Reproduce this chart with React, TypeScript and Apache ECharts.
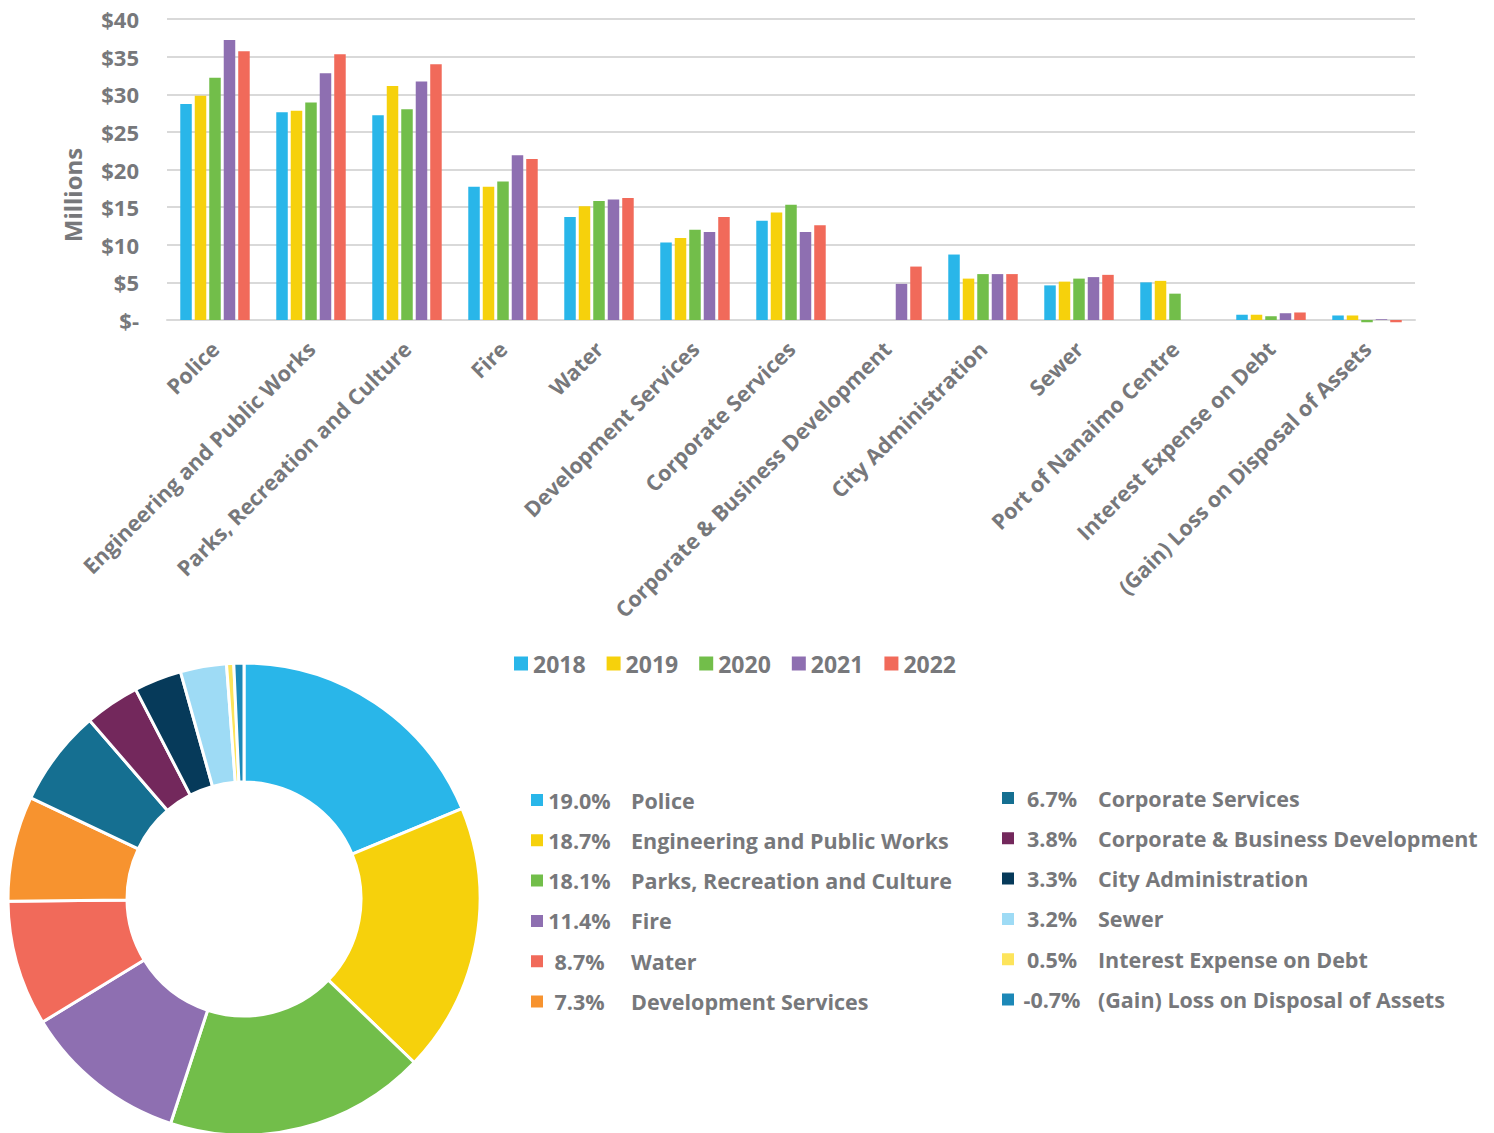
import React, { useEffect, useRef } from "react";
import * as echarts from "echarts";

const categories = [
  "Police",
  "Engineering and Public Works",
  "Parks, Recreation and Culture",
  "Fire",
  "Water",
  "Development Services",
  "Corporate Services",
  "Corporate & Business Development",
  "City Administration",
  "Sewer",
  "Port of Nanaimo Centre",
  "Interest Expense on Debt",
  "(Gain) Loss on Disposal of Assets",
];

const years = ["2018", "2019", "2020", "2021", "2022"];
const y2018 = [28.7, 27.6, 27.2, 17.7, 13.7, 10.3, 13.2, null, 8.7, 4.6, 5.0, 0.7, 0.6];
const y2019 = [29.8, 27.8, 31.1, 17.7, 15.1, 10.9, 14.3, null, 5.5, 5.1, 5.2, 0.7, 0.6];
const y2020 = [32.2, 28.9, 28.0, 18.4, 15.8, 12.0, 15.3, null, 6.1, 5.5, 3.5, 0.5, -0.3];
const y2021 = [37.2, 32.8, 31.7, 21.9, 16.0, 11.7, 11.7, 4.8, 6.1, 5.7, null, 0.9, 0.1];
const y2022 = [35.7, 35.3, 34.0, 21.4, 16.2, 13.7, 12.6, 7.1, 6.1, 6.0, null, 1.0, -0.3];
const yearValues = [y2018, y2019, y2020, y2021, y2022];
const yearColors = ["#29B6E9", "#F6D10C", "#72BE4A", "#8E6FB1", "#F16A5A"];

const pieNames = [
  "Police",
  "Engineering and Public Works",
  "Parks, Recreation and Culture",
  "Fire",
  "Water",
  "Development Services",
  "Corporate Services",
  "Corporate & Business Development",
  "City Administration",
  "Sewer",
  "Interest Expense on Debt",
  "(Gain) Loss on Disposal of Assets",
];
const piePct = [19.0, 18.7, 18.1, 11.4, 8.7, 7.3, 6.7, 3.8, 3.3, 3.2, 0.5, -0.7];
const pieColors = [
  "#29B6E9",
  "#F6D10C",
  "#72BE4A",
  "#8E6FB1",
  "#F16A5A",
  "#F7932F",
  "#156F91",
  "#73285C",
  "#063A5A",
  "#9EDBF5",
  "#FDE45B",
  "#1C88B7",
];

const yTicks = ["$-", "$5", "$10", "$15", "$20", "$25", "$30", "$35", "$40"];

const FONT = "Open Sans";
const W = "bold";
const GREY = "#77787B";

export default function App() {
  const ref = useRef<HTMLDivElement>(null);
  useEffect(() => {
    if (!ref.current) return;
    const chart = echarts.init(ref.current, null, { renderer: "svg" });
    const pctOf = (name: string) => {
      const i = pieNames.indexOf(name);
      return piePct[i].toFixed(1) + "%";
    };
    const leftNames = pieNames.slice(0, 6);
    const rightNames = pieNames.slice(6);
    const txt = (size: number) => ({ color: GREY, fontFamily: FONT, fontWeight: W, fontSize: size });
    const option: any = {
      animation: false,
      backgroundColor: "#ffffff",
      textStyle: { fontFamily: FONT },
      grid: { left: 167, right: 79, top: 19, bottom: 813, containLabel: false },
      graphic: [
        {
          type: "text",
          x: 72,
          y: 195,
          rotation: Math.PI / 2,
          style: {
            text: "Millions",
            ...txt(24),
            fill: GREY,
            align: "center",
            verticalAlign: "middle",
          },
        },
      ],
      xAxis: {
        type: "category",
        data: categories,
        axisLine: { show: true, lineStyle: { color: "#D9D9D9", width: 2 } },
        axisTick: { show: false },
        axisLabel: {
          rotate: 45,
          interval: 0,
          margin: 25,
          ...txt(21.5),
        },
      },
      yAxis: {
        type: "value",
        min: 0,
        max: 40,
        interval: 5,
        axisLine: { show: false },
        axisTick: { show: false },
        splitLine: { lineStyle: { color: "#D9D9D9", width: 2 } },
        axisLabel: {
          margin: 28,
          ...txt(22),
          formatter: (v: number) => yTicks[Math.round(v / 5)],
        },
      },
      legend: [
        {
          data: years,
          left: 509,
          top: 647,
          icon: "rect",
          itemWidth: 14,
          itemHeight: 14,
          itemGap: 21,
          selectedMode: false,
          textStyle: txt(23),
        },
        {
          data: leftNames,
          left: 524,
          top: 784,
          orient: "vertical",
          icon: "rect",
          itemWidth: 14,
          itemHeight: 14,
          itemGap: 18.3,
          selectedMode: false,
          formatter: (name: string) => `{p|${pctOf(name)}}{n|${name}}`,
          textStyle: {
            ...txt(21.5),
            rich: {
              p: { width: 61, align: "right", ...txt(21.5) },
              n: { padding: [0, 0, 0, 21], ...txt(21.5) },
            },
          },
        },
        {
          data: rightNames,
          left: 995,
          top: 782,
          orient: "vertical",
          icon: "rect",
          itemWidth: 14,
          itemHeight: 14,
          itemGap: 18.3,
          selectedMode: false,
          formatter: (name: string) => `{p|${pctOf(name)}}{n|${name}}`,
          textStyle: {
            ...txt(21.5),
            rich: {
              p: { width: 64, align: "right", ...txt(21.5) },
              n: { padding: [0, 0, 0, 14], ...txt(21.5) },
            },
          },
        },
      ],
      series: [
        ...years.map((y, i) => ({
          name: y,
          type: "bar",
          data: yearValues[i],
          barWidth: 11.5,
          barGap: "26%",
          clip: false,
          itemStyle: { color: yearColors[i] },
          emphasis: { disabled: true },
        })),
        {
          name: "share",
          type: "pie",
          center: [244, 899],
          radius: [117, 236],
          startAngle: 90,
          clockwise: true,
          label: { show: false },
          labelLine: { show: false },
          emphasis: { disabled: true },
          itemStyle: { borderColor: "#ffffff", borderWidth: 3 },
          data: pieNames.map((n, i) => ({
            name: n,
            value: Math.abs(piePct[i]),
            itemStyle: { color: pieColors[i] },
          })),
        },
      ],
    };
    chart.setOption(option);
    return () => chart.dispose();
  }, []);
  return (
    <div
      ref={ref}
      style={{ position: "fixed", left: 0, top: 0, width: 1494, height: 1133 }}
    />
  );
}
